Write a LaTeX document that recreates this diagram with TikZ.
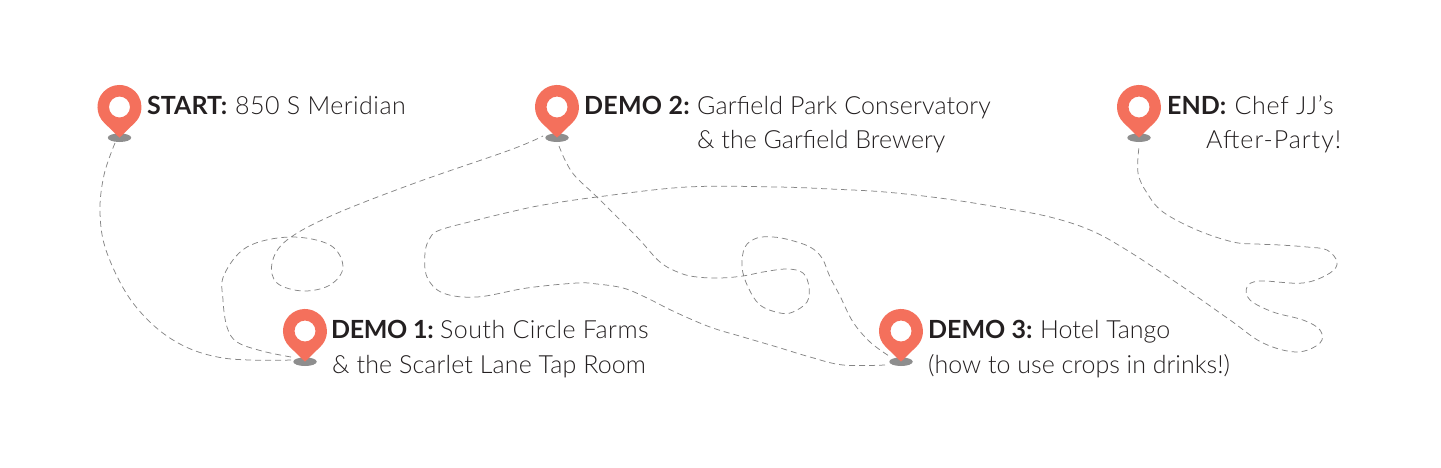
\documentclass[tikz,border=0pt]{standalone}
\usepackage{fontspec}
\setmainfont{Lato Light}[BoldFont={Lato Bold}]
\definecolor{pinred}{HTML}{F4705C}
\definecolor{pingrey}{HTML}{8E8E8E}
\definecolor{ink}{HTML}{231F20}
\definecolor{routegrey}{HTML}{858585}
\usetikzlibrary{shapes.geometric}
\tikzset{
  x=1pt,y=-1pt,
  label/.style={anchor=base west,inner sep=0pt,text=ink,font=\fontsize{25}{30}\selectfont},
  shadowmark/.style={ellipse,fill=pingrey,minimum width=23.5pt,minimum height=8.6pt,inner sep=0pt},
  route/.style={draw=routegrey,line width=0.75pt,dash pattern=on 6pt off 4pt},
}
\newcommand{\mappin}[3]{%
  \node[shadowmark] (#1) at (#2,#3+30.7) {};
  \fill[pinred,even odd rule] (#2,#3+30.7) -- (#2-15.3,#3+15.8)
    arc[start angle=226,end angle=-46,radius=22pt] -- cycle
    (#2+10.5,#3) arc[start angle=0,end angle=360,radius=10.5pt];
}
\newcommand{\lab}[5]{\makebox[#1pt][l]{\addfontfeature{LetterSpace=#5}\textbf{#2}}{\addfontfeature{LetterSpace=#3}#4}}
\newcommand{\spaced}[2]{{\addfontfeature{LetterSpace=#1}#2}}
\begin{document}
\begin{tikzpicture}
\useasboundingbox (0,0) rectangle (1441,467);
\mappin{start}{119.5}{107}
\mappin{demoA}{305}{331}
\mappin{demoB}{557}{107}
\mappin{demoC}{901}{331}
\mappin{finish}{1139}{107}
\coordinate (startOut) at (115,143);
\coordinate (aIn) at (293,360);
\coordinate (aOut) at (291,357);
\coordinate (bIn) at (543,136);
\coordinate (bOut) at (559,146);
\coordinate (cIn) at (889,356);
\coordinate (cOut) at (885,365);
\coordinate (endIn) at (1139,147);
\node[label] (t1) at (147,114) {\lab{88}{START:}{1.9}{850 S Meridian}{0}};
\node[label] (t2) at (584,114) {\lab{113}{DEMO 2:}{0.6}{Garfield Park Conservatory}{1}};
\node[label] (t2b) at (697,148) {\& the Garfield Brewery};
\node[label] (t3) at (1167,114) {\lab{67.5}{END:}{2.6}{Chef JJ’s}{0}};
\node[label] (t3b) at (1206,148) {\spaced{4}{After-Party!}};
\node[label] (t4) at (331,338) {\lab{109}{DEMO 1:}{1.8}{South Circle Farms}{-1.4}};
\node[label] (t4b) at (332,373) {\spaced{0.5}{\& the Scarlet Lane Tap Room}};
\node[label] (t5) at (928,338) {\lab{112}{DEMO 3:}{0}{Hotel Tango}{0}};
\node[label] (t5b) at (928,373) {(how to use crops in drinks!)};
\draw[route] plot[smooth,tension=0.6] coordinates {(startOut) (104,175) (100,213) (107,253) (133,303) (173,340) (223,358) (aIn)};
\draw[route] plot[smooth,tension=0.6] coordinates {(aOut) (262,351) (237,342) (227,327) (223,300) (224,275) (247,247) (290,237) (330,245) (343,267) (330,285) (303,291) (277,283) (272,263) (287,240) (333,215) (415,183) (510,150) (bIn)};
\draw[route] plot[smooth,tension=0.6] coordinates {(bOut) (565,160) (575,176) (597,197) (637,237) (660,262) (680,273) (697,277) (720,278) (743,276) (763,272) (787,269) (803,273) (809,287) (807,302) (793,312) (780,313) (760,305) (748,287) (742,267) (745,247) (757,238) (773,237) (790,240) (810,247) (822,258) (830,277) (840,296) (853,322) (870,342) (cIn)};
\draw[route] plot[smooth,tension=0.6] coordinates {(cOut) (843,365) (810,357) (777,347) (743,337) (710,327) (675,312) (645,297) (623,288) (597,284) (577,283) (527,288) (477,297) (443,293) (427,277) (425,253) (430,238) (440,230) (477,220) (510,212) (543,205) (597,197) (687,187) (777,187) (830,189) (885,192) (947,199) (1003,208) (1050,217) (1090,230) (1125,249) (1180,285) (1230,320) (1263,343) (1297,352) (1320,343) (1320,330) (1303,320) (1273,312) (1250,300) (1247,287) (1260,281) (1303,283) (1330,273) (1337,262) (1327,250) (1307,247) (1280,245) (1257,244) (1233,242) (1197,230) (1163,212) (1147,193) (1138,173) (endIn)};
\end{tikzpicture}
\end{document}
